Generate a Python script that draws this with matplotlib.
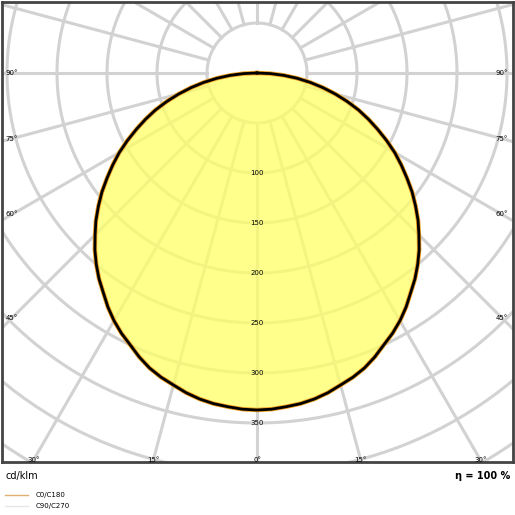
import numpy as np
import matplotlib
matplotlib.use("Agg")
import matplotlib.pyplot as plt

gamma = [0, 2.5, 5, 7.5, 10, 12.5, 15, 17.5, 20, 22.5, 25, 27.5, 30, 32.5, 35, 37.5, 40, 42.5,
         45, 47.5, 50, 52.5, 55, 57.5, 60, 62.5, 65, 67.5, 70, 72.5, 75, 77.5, 80, 82.5, 85, 87.5, 90]
c0_c180 = [337, 336.5, 335, 333.5, 331, 327.5, 323, 319, 314, 307.5, 300, 293.5, 286, 277.5, 268,
           259.5, 250, 240, 229, 218.5, 207, 195.5, 183, 171, 159, 146, 133, 120.5, 108, 94.5, 81,
           67.5, 54, 40.5, 27, 13.5, 0]
c90_c270 = list(c0_c180)
ring_values = [100, 150, 200, 250, 300, 350]
side_angles = [90, 75, 60, 45]
bottom_angles = [30, 15, 0]

W = 515
fig = plt.figure(figsize=(5.15, 5.15), dpi=100)
ax = fig.add_axes([2 / W, (W - 462) / W, 511 / W, 460 / W])
ax.set_xlim(-255, 256)
ax.set_ylim(-389, 71)
ax.set_xticks([]); ax.set_yticks([])
for s in ax.spines.values():
    s.set_color("#444444"); s.set_linewidth(2)

gc = "#d2d2d2"
th = np.linspace(0, 2 * np.pi, 400)
for r in range(50, 651, 50):
    ax.plot(r * np.cos(th), r * np.sin(th), color=gc, lw=2.2, zorder=1)
for a in range(0, 360, 15):
    t = np.radians(a)
    ax.plot([50 * np.sin(t), 900 * np.sin(t)], [-50 * np.cos(t), -900 * np.cos(t)], color=gc, lw=2.2, zorder=1)

def curve(vals):
    g = np.radians(np.array(gamma))
    v = np.array(vals)
    xs = np.concatenate([-(v * np.sin(g))[::-1], (v * np.sin(g))[1:]])
    ys = np.concatenate([-(v * np.cos(g))[::-1], -(v * np.cos(g))[1:]])
    return xs, ys

x0, y0 = curve(c0_c180)
x9, y9 = curve(c90_c270)
ax.fill(x0, y0, color="#ffff66", alpha=0.75, zorder=2, lw=0)
ax.plot(x0, y0, color="#f0a020", lw=3.2, zorder=3, solid_joinstyle="round")
ax.plot(x9, y9, color="black", lw=2, zorder=4, solid_joinstyle="round")

fs = 5
for v in ring_values:
    ax.text(0, -v, str(v), ha="center", va="center", fontsize=fs, zorder=5)
for a in side_angles:
    y = -245 * np.tan(np.radians(90 - a))
    ax.text(-245, y, f"{a}°", ha="center", va="center", fontsize=fs, zorder=5)
    ax.text(245, y, f"{a}°", ha="center", va="center", fontsize=fs, zorder=5)
for a in bottom_angles:
    x = 387 * np.tan(np.radians(a))
    ax.text(-x, -387, f"{a}°", ha="center", va="center", fontsize=fs, zorder=5)
    if a:
        ax.text(x, -387, f"{a}°", ha="center", va="center", fontsize=fs, zorder=5)

fig.text(5 / W, 1 - 476 / W, "cd/klm", fontsize=7, va="center", ha="left")
fig.text(510 / W, 1 - 476 / W, "η = 100 %", fontsize=7, va="center", ha="right", weight="bold")
fig.add_artist(plt.Line2D([5 / W, 28 / W], [1 - 495 / W] * 2, color="#e0b070", lw=1))
fig.add_artist(plt.Line2D([5 / W, 28 / W], [1 - 506 / W] * 2, color="#e6e6e6", lw=1))
fig.text(36 / W, 1 - 495 / W, "C0/C180", fontsize=5, va="center")
fig.text(36 / W, 1 - 506 / W, "C90/C270", fontsize=5, va="center")

fig.savefig("out.png", dpi=100)
